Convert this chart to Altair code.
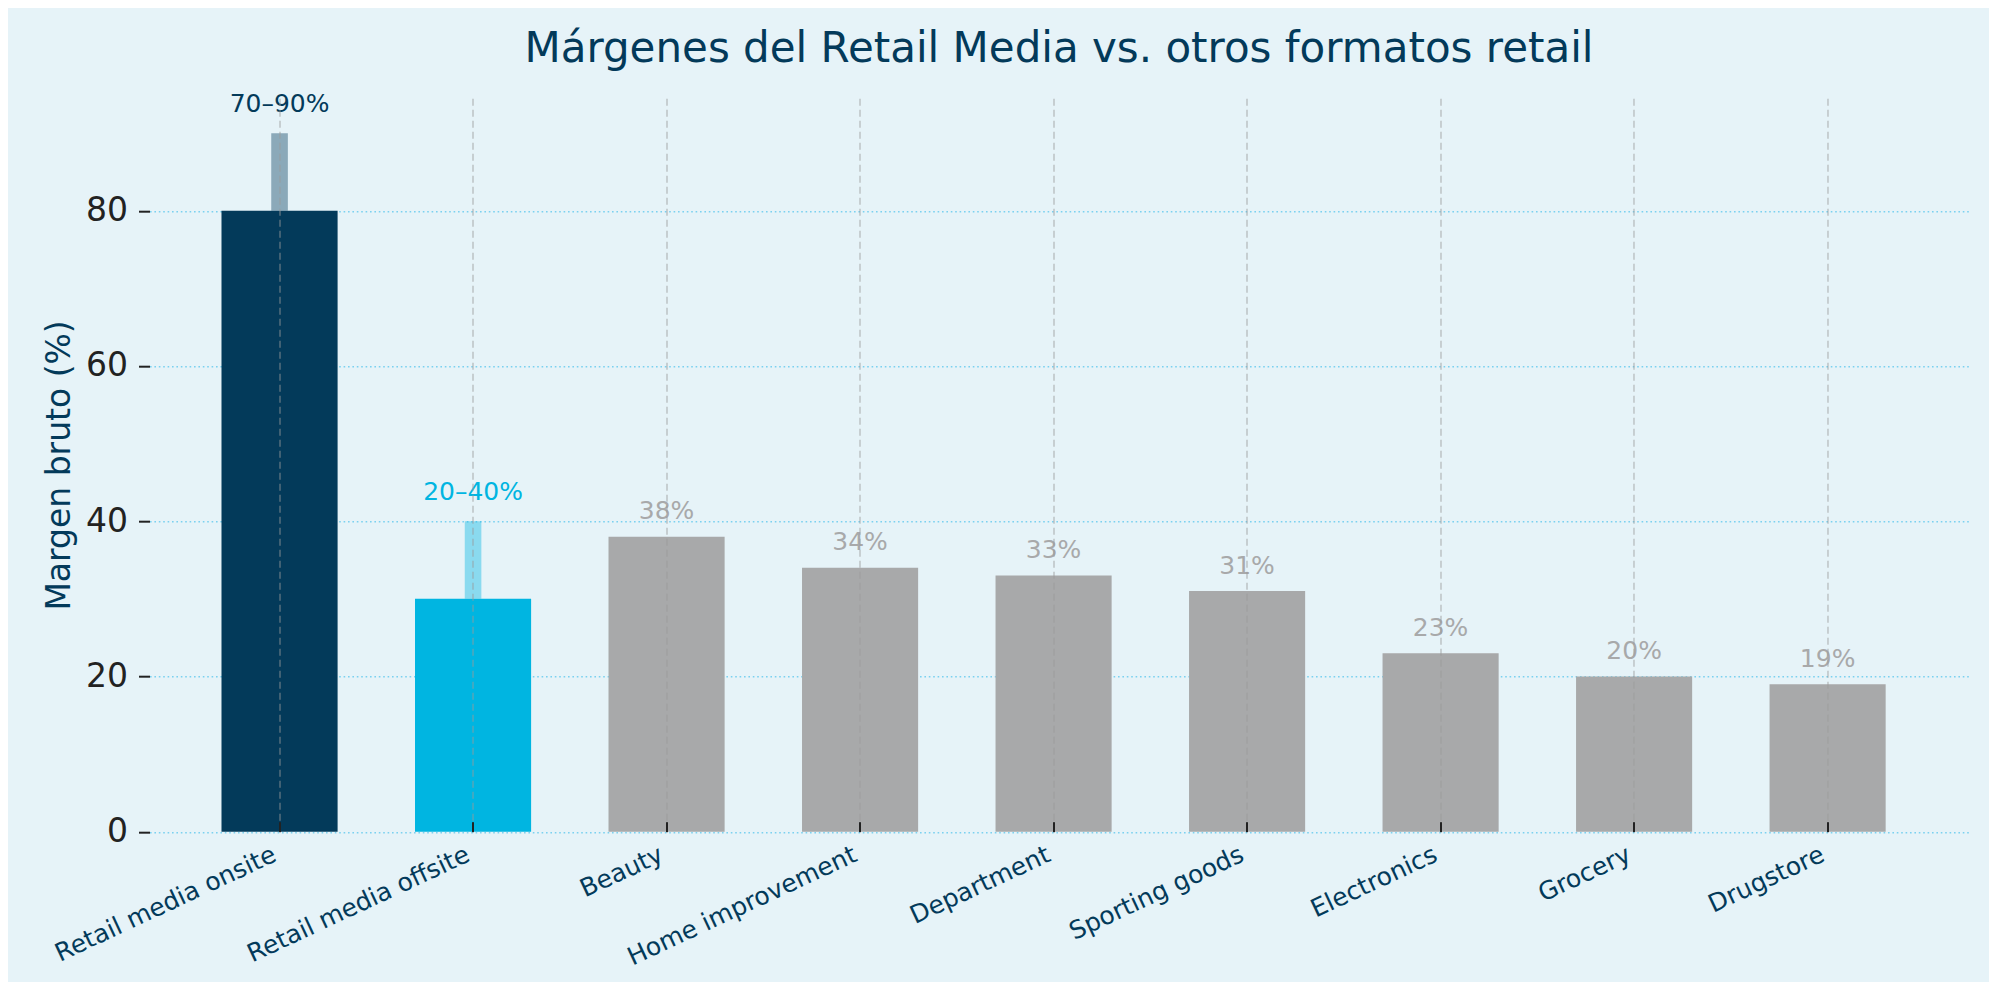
import altair as alt
import pandas as pd

# ---- data ----
categories = ["Retail media onsite", "Retail media offsite", "Beauty", "Home improvement",
              "Department", "Sporting goods", "Electronics", "Grocery", "Drugstore"]
values = [80, 30, 38, 34, 33, 31, 23, 20, 19]
groups = ["onsite", "offsite", "other", "other", "other", "other", "other", "other", "other"]
range_low = [70, 20, None, None, None, None, None, None, None]
range_high = [90, 40, None, None, None, None, None, None, None]

NAVY = "#033a5a"
CYAN = "#00b5e1"
GRAY = "#a8a9aa"
BG = "#e6f3f8"
FONT = "DejaVu Sans"

labels = []
tops = []
for v, lo, hi in zip(values, range_low, range_high):
    if lo is not None:
        labels.append(f"{lo}\u2013{hi}%")
        tops.append(hi)
    else:
        labels.append(f"{v}%")
        tops.append(v)

df = pd.DataFrame({
    "cat": categories,
    "value": values,
    "group": groups,
    "high": range_high,
    "label": labels,
    "top": tops,
})

W, H = 1819, 733.5

x_enc = alt.X(
    "cat:N", sort=categories,
    scale=alt.Scale(paddingInner=0.4, paddingOuter=0.4, align=0.465),
    axis=alt.Axis(
        title=None, domain=False, offset=-10, tickSize=10, tickWidth=2, tickColor="#222222",
        bandPosition=0.5,
        labelAngle=-25, labelAlign="right", labelBaseline="top", labelPadding=10,
        labelOffset=-10, labelLimit=0, labelFontSize=25, labelColor=NAVY, labelFont=FONT,
        grid=True, gridDash=[7, 4], gridColor="#9a9a9a", gridOpacity=0.55, gridWidth=1.5,
        zindex=1,
    ),
)

y_scale = alt.Scale(domain=[0, 94.5], nice=False, zero=True)
y_axis = alt.Axis(
    title="Margen bruto (%)", values=[0, 20, 40, 60, 80], domain=False,
    tickSize=11, tickWidth=2, tickColor="#222222",
    labelFontSize=33, labelColor="#222222", labelFont=FONT, labelPadding=11,
    titleFontSize=33, titleColor=NAVY, titleFont=FONT, titleFontWeight="normal",
    titleAngle=-90, titleAlign="center", titleBaseline="alphabetic",
    titleX=-80, titleY=H / 2,
    grid=True, gridDash=[1.6, 2.8], gridColor="#6fcdee", gridOpacity=0.9, gridWidth=1.6,
    zindex=0,
)

color_scale = alt.Scale(domain=["onsite", "offsite", "other"], range=[NAVY, CYAN, GRAY])

base = alt.Chart(df)

bars = base.mark_bar().encode(
    x=x_enc,
    y=alt.Y("value:Q", scale=y_scale, axis=y_axis),
    color=alt.Color("group:N", scale=color_scale, legend=None),
)

ext = base.transform_filter("datum.high != null").mark_bar(
    width=alt.RelativeBandSize(0.143), opacity=0.4
).encode(
    x=x_enc,
    y=alt.Y("value:Q", scale=y_scale, axis=y_axis),
    y2="high:Q",
    color=alt.Color("group:N", scale=color_scale, legend=None),
)

range_text = base.transform_filter("datum.high != null").mark_text(
    fontSize=25, font=FONT, baseline="alphabetic", align="center", dy=-21
).encode(
    x=x_enc,
    y=alt.Y("top:Q", scale=y_scale, axis=y_axis),
    text="label:N",
    color=alt.Color("group:N", scale=color_scale, legend=None),
)

val_text = base.transform_filter("datum.high == null").mark_text(
    fontSize=25, font=FONT, baseline="alphabetic", align="center", dy=-17.5
).encode(
    x=x_enc,
    y=alt.Y("top:Q", scale=y_scale, axis=y_axis),
    text="label:N",
    color=alt.Color("group:N", scale=color_scale, legend=None),
)

chart = alt.layer(bars, ext, range_text, val_text).properties(
    width=W, height=H,
    autosize=alt.AutoSizeParams(type="none"),
    padding={"left": 141.5, "top": 90.2, "right": 20, "bottom": 150},
    background=BG,
    title=alt.TitleParams(
        "Márgenes del Retail Media vs. otros formatos retail",
        fontSize=42, font=FONT, color=NAVY, fontWeight="normal",
        anchor="middle", baseline="alphabetic", frame="group", offset=35, dy=47,
    ),
).configure_view(stroke=None)

chart.save("out.html", embed_options={"renderer": "svg", "actions": False})
